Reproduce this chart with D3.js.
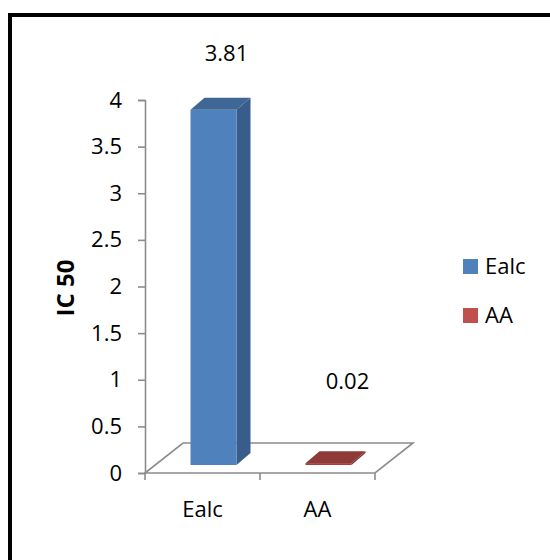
<!DOCTYPE html>
<html>
<head>
<meta charset="utf-8">
<script src="https://cdn.jsdelivr.net/npm/d3@7"></script>
<style>
  html, body { margin: 0; padding: 0; background: #fff; }
  svg { display: block; }
  text { font-family: "Open Sans", "Liberation Sans", sans-serif; fill: #000; }
</style>
</head>
<body>
<svg id="chart" width="550" height="560"></svg>
<script>
// IC 50 values per sample
const categories = ["Ealc", "AA"];
const values = [3.81, 0.02];
const yTicks = [0, 0.5, 1, 1.5, 2, 2.5, 3, 3.5, 4];
const yTitle = "IC 50";

const faceColors = [
  { front: "#4F81BD", side: "#385D8A", top: "#3F6796", legend: "#4F81BD" },
  { front: "#A33F3D", side: "#7A2E2C", top: "#8E3A38", legend: "#C0504D" }
];

const FONT = "22px";
const svg = d3.select("#chart");

// outer frame
svg.append("rect")
  .attr("x", 10).attr("y", 15)
  .attr("width", 600).attr("height", 600)
  .attr("fill", "none").attr("stroke", "#000").attr("stroke-width", 4);

const x0 = 145, x1 = 375;
const y = d3.scaleLinear().domain([0, 4]).range([473, 100]);
const x = d3.scaleBand().domain(categories).range([x0, x1]);

// depth of the floor (oblique projection)
const depth = { dx: 38, dy: -30 };
const axisColor = "#8C8C8C";

// floor
const base = y(0);
svg.append("path")
  .attr("d", `M${x0},${base} L${x0 + depth.dx},${base + depth.dy} L${x1 + depth.dx},${base + depth.dy} L${x1},${base} Z`)
  .attr("fill", "none").attr("stroke", axisColor).attr("stroke-width", 1.6);

// value axis
const yAxis = svg.append("g")
  .attr("transform", `translate(${x0},0)`)
  .call(d3.axisLeft(y).tickValues(yTicks).tickSize(7).tickPadding(16).tickFormat(d3.format("")));
yAxis.attr("font-family", null).attr("font-size", null);
yAxis.select(".domain").attr("stroke", axisColor).attr("stroke-width", 1.6);
yAxis.selectAll(".tick line").attr("stroke", axisColor).attr("stroke-width", 1.6);
yAxis.selectAll(".tick text").style("font-size", FONT).attr("fill", "#000");

// category axis ticks
const xEdges = [x0].concat(categories.map(c => x(c) + x.bandwidth()));
svg.append("g").selectAll("line").data(xEdges).join("line")
  .attr("x1", d => d).attr("x2", d => d)
  .attr("y1", base).attr("y2", base + 7)
  .attr("stroke", axisColor).attr("stroke-width", 1.6);
svg.append("g").selectAll("text").data(categories).join("text")
  .attr("x", d => x(d) + x.bandwidth() / 2)
  .attr("y", base + 44)
  .attr("text-anchor", "middle")
  .style("font-size", FONT)
  .text(d => d);

// 3D bars
const barW = x.bandwidth() * 0.4;
const front = { dx: 11, dy: -8 };
const bar = { dx: 14, dy: -12 };

const bars = svg.append("g").selectAll("g").data(values).join("g");
bars.each(function (v, i) {
  const g = d3.select(this);
  const c = faceColors[i];
  const cx = x(categories[i]) + x.bandwidth() / 2;
  const L = cx - barW / 2 + front.dx, R = L + barW;
  const B = y(0) + front.dy, T = y(v) + front.dy;
  // side face
  g.append("path")
    .attr("d", `M${R},${B} L${R + bar.dx},${B + bar.dy} L${R + bar.dx},${T + bar.dy} L${R},${T} Z`)
    .attr("fill", c.side);
  // front face
  g.append("rect").attr("x", L).attr("y", T).attr("width", barW).attr("height", Math.max(0, B - T))
    .attr("fill", c.front);
  // top face
  g.append("path")
    .attr("d", `M${L},${T} L${L + bar.dx},${T + bar.dy} L${R + bar.dx},${T + bar.dy} L${R},${T} Z`)
    .attr("fill", c.top);
});

// value labels
const labelLift = [57, 82];
svg.append("g").selectAll("text").data(values).join("text")
  .attr("x", (d, i) => x(categories[i]) + x.bandwidth() / 2 + [24, 30][i])
  .attr("y", (d, i) => y(d) + front.dy - labelLift[i] + 8)
  .attr("text-anchor", "middle")
  .style("font-size", FONT)
  .text(d => d3.format(".2f")(d));

// axis title
svg.append("text")
  .attr("transform", "translate(74,288) rotate(-90)")
  .attr("text-anchor", "middle")
  .style("font-size", "24px").style("font-weight", "bold")
  .text(yTitle);

// legend
const legend = svg.append("g").selectAll("g").data(categories).join("g")
  .attr("transform", (d, i) => `translate(463,${259 + i * 49})`);
legend.append("rect").attr("width", 15).attr("height", 15).attr("fill", (d, i) => faceColors[i].legend);
legend.append("text").attr("x", 22).attr("y", 15).style("font-size", FONT).text(d => d);
</script>
</body>
</html>
